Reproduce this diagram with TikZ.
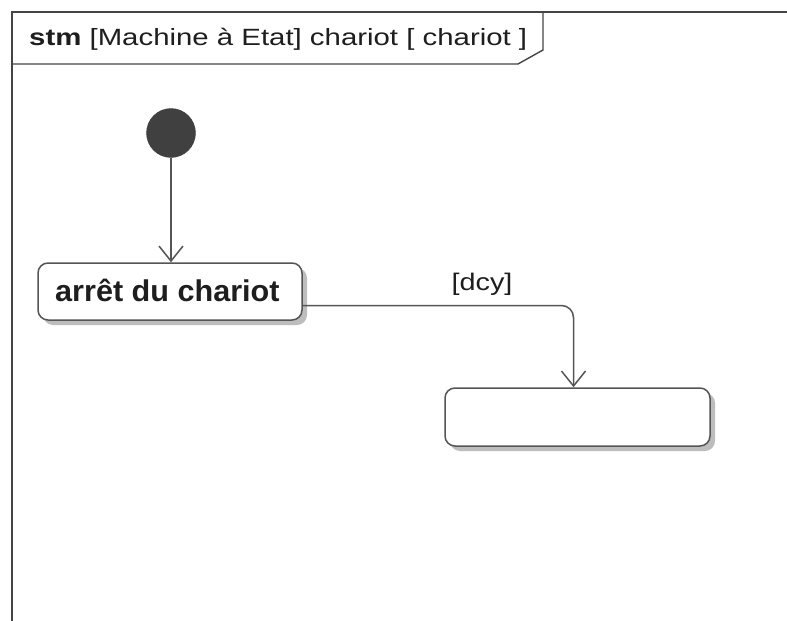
\documentclass[tikz,border=0pt]{standalone}
\usepackage{fontspec}
\setmainfont{Liberation Sans}
\usetikzlibrary{arrows.meta,shadows,calc}
\definecolor{frameline}{HTML}{444444}
\definecolor{edgeline}{HTML}{555555}
\definecolor{ink}{HTML}{1E1E1E}
\tikzset{
  stateBox/.style={draw=edgeline, line width=1.5pt, fill=white, rounded corners=10pt,
    drop shadow={shadow xshift=5pt, shadow yshift=-5pt, fill=gray!60, opacity=0.85},
    minimum height=57pt, text=ink, inner sep=0pt},
  transition/.style={draw=edgeline, line width=1.5pt,
    -{Straight Barb[length=15pt,width=24pt,line width=1.5pt]}},
  initState/.style={circle, fill=ink!85, draw=ink!85, minimum size=49pt, inner sep=0pt},
}
\begin{document}
\begin{tikzpicture}[x=1pt,y=-1pt]
  \useasboundingbox[fill=white] (0,0) rectangle (787,621);

  % diagram frame with its name tab
  \draw[frameline, line width=1.4pt] (787,12) -- (12,12) -- (12,621);
  \draw[frameline, line width=1.4pt] (12,64) -- (518,64) -- (543,50) -- (543,12);
  \node[anchor=base west, text=ink, inner sep=0pt, font=\fontsize{23.5}{28}\selectfont] (title) at (29,45)
    {\scalebox{1.25}[1]{\textbf{stm} [Machine à Etat] chariot [ chariot ]}};

  % states
  \node[initState] (init) at (171,133) {};
  \node[stateBox, minimum width=264pt] (s1) at (170,291.5) {};
  \node[anchor=base west, inner sep=0pt, text=ink, font=\bfseries\fontsize{30}{34}\selectfont] (s1name)
    at (55,301) {\scalebox{1.02}[1]{arrêt du chariot}};
  \node[stateBox, minimum width=265pt, minimum height=58pt] (s2) at (577.5,417) {};

  % transitions
  \draw[transition] (init) -- (s1.north -| init);
  \draw[transition, rounded corners=12pt] ([yshift=-14pt]s1.east) -| ([xshift=-4pt]s2.north);
  \node[anchor=base, inner sep=0pt, text=ink, font=\fontsize{24}{28}\selectfont] (guard) at (482,290)
    {\scalebox{1.2}[1]{[dcy]}};
\end{tikzpicture}
\end{document}
